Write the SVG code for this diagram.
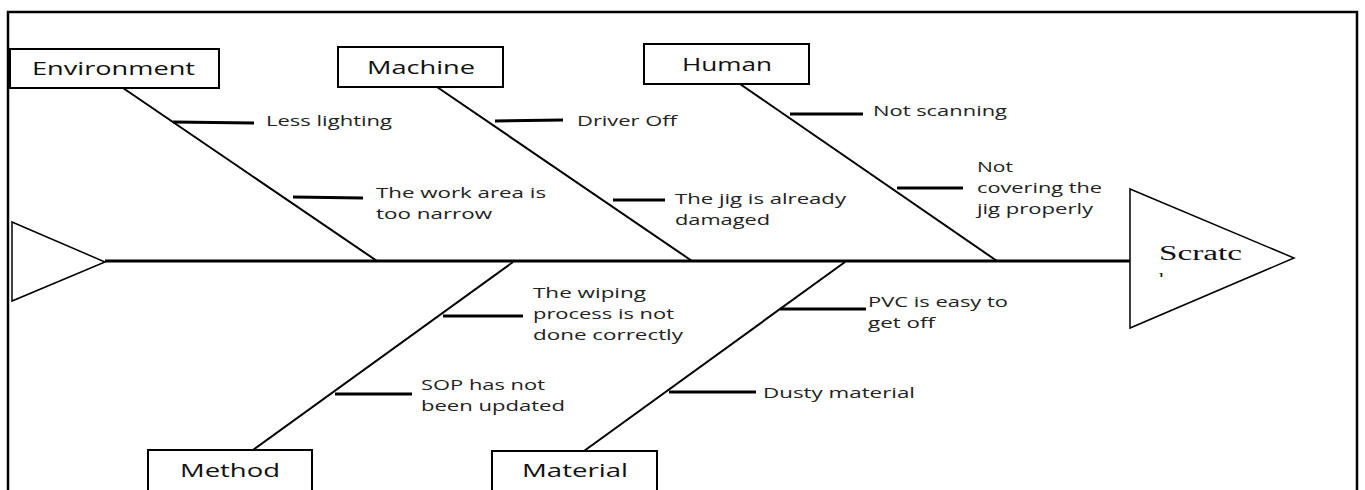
<svg xmlns="http://www.w3.org/2000/svg" width="1365" height="490" viewBox="0 0 1365 490">
<defs>
<style>
.frame{fill:none;stroke:#000;stroke-width:2.5}
.box{fill:#fff;stroke:#000;stroke-width:2}
.bone{stroke:#000;stroke-width:2;fill:none}
.spine{stroke:#000;stroke-width:3;fill:none}
.tick{stroke:#000;stroke-width:3;fill:none}
.head{fill:#fff;stroke:#000;stroke-width:1.5}
.cat{font-family:"Open Sans","Liberation Sans",sans-serif;font-size:18px;fill:#111}
.cause{font-family:"Open Sans","Liberation Sans",sans-serif;font-size:15px;fill:#222}
.eff{font-family:"Liberation Serif",serif;font-size:20px;fill:#111}
</style>
<clipPath id="hclip"><rect x="1150" y="266" width="40" height="11"/></clipPath>
</defs>
<rect class="frame" x="8" y="12" width="1349" height="490"/>
<g id="connectors">
<line class="spine" x1="105" y1="261" x2="1130" y2="261"/>
<line class="bone" x1="123" y1="88" x2="377" y2="261"/>
<line class="bone" x1="437" y1="87" x2="692" y2="261"/>
<line class="bone" x1="740" y1="84" x2="997" y2="261"/>
<line class="bone" x1="513" y1="262" x2="253" y2="450"/>
<line class="bone" x1="845" y1="262" x2="584" y2="451"/>
<line class="tick" x1="173" y1="122" x2="254" y2="123"/>
<line class="tick" x1="293" y1="197" x2="363" y2="198"/>
<line class="tick" x1="495" y1="121" x2="563" y2="120"/>
<line class="tick" x1="613" y1="200" x2="665" y2="200"/>
<line class="tick" x1="790" y1="114" x2="863" y2="114"/>
<line class="tick" x1="897" y1="188" x2="963" y2="188"/>
<line class="tick" x1="443" y1="316" x2="523" y2="316"/>
<line class="tick" x1="335" y1="394" x2="412" y2="394"/>
<line class="tick" x1="780" y1="309" x2="866" y2="309"/>
<line class="tick" x1="669" y1="392" x2="756" y2="392"/>
</g>
<g id="tail"><polygon class="head" points="12,222 105,262 12,301"/></g>
<g id="head">
<polygon class="head" points="1130,189 1294,258 1130,328"/>
<text class="eff" x="1159" y="260" textLength="83" lengthAdjust="spacingAndGlyphs">Scratc</text>
<text class="eff" x="1159" y="287" clip-path="url(#hclip)">h</text>
</g>
<g id="environment">
<rect class="box" x="10" y="49" width="209" height="39"/>
<text class="cat" x="32" y="75" textLength="163" lengthAdjust="spacingAndGlyphs">Environment</text>
</g>
<g id="machine">
<rect class="box" x="338" y="47" width="165" height="40"/>
<text class="cat" x="367" y="74" textLength="108" lengthAdjust="spacingAndGlyphs">Machine</text>
</g>
<g id="human">
<rect class="box" x="644" y="44" width="165" height="40"/>
<text class="cat" x="682" y="71" textLength="90" lengthAdjust="spacingAndGlyphs">Human</text>
</g>
<g id="method">
<rect class="box" x="148" y="450" width="164" height="45"/>
<text class="cat" x="180" y="477" textLength="100" lengthAdjust="spacingAndGlyphs">Method</text>
</g>
<g id="material">
<rect class="box" x="492" y="451" width="165" height="45"/>
<text class="cat" x="522" y="477" textLength="106" lengthAdjust="spacingAndGlyphs">Material</text>
</g>
<g id="causes">
<text class="cause" x="266" y="126" textLength="126" lengthAdjust="spacingAndGlyphs">Less lighting</text>
<text class="cause" x="376" y="198" textLength="170" lengthAdjust="spacingAndGlyphs">The work area is</text>
<text class="cause" x="376" y="219" textLength="116" lengthAdjust="spacingAndGlyphs">too narrow</text>
<text class="cause" x="577" y="126" textLength="100" lengthAdjust="spacingAndGlyphs">Driver Off</text>
<text class="cause" x="675" y="204" textLength="171" lengthAdjust="spacingAndGlyphs">The jig is already</text>
<text class="cause" x="675" y="225" textLength="95" lengthAdjust="spacingAndGlyphs">damaged</text>
<text class="cause" x="873" y="116" textLength="134" lengthAdjust="spacingAndGlyphs">Not scanning</text>
<text class="cause" x="977" y="172" textLength="36" lengthAdjust="spacingAndGlyphs">Not</text>
<text class="cause" x="977" y="193" textLength="125" lengthAdjust="spacingAndGlyphs">covering the</text>
<text class="cause" x="977" y="214" textLength="116" lengthAdjust="spacingAndGlyphs">jig properly</text>
<text class="cause" x="533" y="298" textLength="113" lengthAdjust="spacingAndGlyphs">The wiping</text>
<text class="cause" x="533" y="319" textLength="141" lengthAdjust="spacingAndGlyphs">process is not</text>
<text class="cause" x="533" y="340" textLength="150" lengthAdjust="spacingAndGlyphs">done correctly</text>
<text class="cause" x="421" y="390" textLength="124" lengthAdjust="spacingAndGlyphs">SOP has not</text>
<text class="cause" x="421" y="411" textLength="144" lengthAdjust="spacingAndGlyphs">been updated</text>
<text class="cause" x="868" y="307" textLength="140" lengthAdjust="spacingAndGlyphs">PVC is easy to</text>
<text class="cause" x="868" y="328" textLength="67" lengthAdjust="spacingAndGlyphs">get off</text>
<text class="cause" x="763" y="398" textLength="152" lengthAdjust="spacingAndGlyphs">Dusty material</text>
</g>
</svg>
